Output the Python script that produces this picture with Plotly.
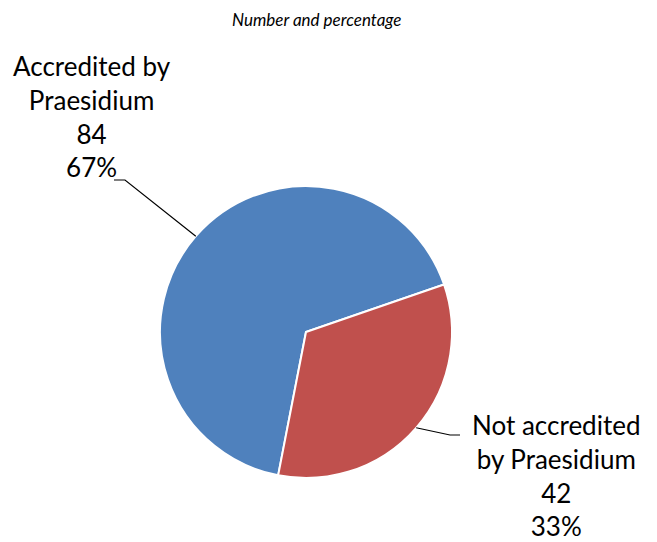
import math
import plotly.graph_objects as go

labels = ["Accredited by<br>Praesidium", "Not accredited<br>by Praesidium"]
values = [84, 42]
colors = ["#4F81BD", "#C0504D"]

# the page body has an 8px margin, so the figure is a bit smaller than the window
OFF = 8
W, H = 657 - OFF, 542 - OFF
cx, cy, r = 306 - OFF, 332 - OFF, 146  # pie centre / radius in figure pixels
rotation = 191  # first slice starts here, clockwise from 12 o'clock

fig = go.Figure(
    go.Pie(
        labels=labels,
        values=values,
        sort=False,
        direction="clockwise",
        rotation=rotation,
        textinfo="none",
        hoverinfo="label+value+percent",
        marker=dict(colors=colors, line=dict(color="white", width=2)),
        domain=dict(x=[(cx - r) / W, (cx + r) / W], y=[(H - cy - r) / H, (H - cy + r) / H]),
        showlegend=False,
    )
)


def px(x, y):
    # screen pixel -> paper coords
    return (x - OFF) / W, 1 - (y - OFF) / H


total = sum(values)
# label block top-centre and leader elbow (screen pixels) for each slice
label_pos = [(92, 48), (556, 407)]
elbows = [((125, 180), (114, 180)), ((450, 435), (460, 435))]

start = rotation
for i, v in enumerate(values):
    sweep = 360 * v / total
    mid = math.radians(start + sweep / 2)
    start += sweep
    ex, ey = cx + OFF + r * math.sin(mid), cy + OFF - r * math.cos(mid)
    (bx, by), (tx, ty) = elbows[i]
    path = "M {} {} L {} {} L {} {}".format(*px(ex, ey), *px(bx, by), *px(tx, ty))
    fig.add_shape(type="path", path=path, xref="paper", yref="paper",
                  line=dict(color="black", width=1.2))
    pct = round(100 * v / total)
    lx, ly = px(*label_pos[i])
    fig.add_annotation(
        x=lx, y=ly, xref="paper", yref="paper",
        text=f"{labels[i]}<br>{v}<br>{pct}%",
        showarrow=False, xanchor="center", yanchor="top", align="center",
        font=dict(size=26, color="black"),
    )

tx, ty = px(317, 7)
fig.add_annotation(
    x=tx, y=ty, xref="paper", yref="paper",
    text="<i>Number and percentage</i>", showarrow=False,
    xanchor="center", yanchor="top", font=dict(size=17, color="black"),
)

fig.update_layout(
    width=W, height=H,
    margin=dict(l=0, r=0, t=0, b=0),
    paper_bgcolor="white", plot_bgcolor="white",
    font=dict(family="Lato, Open Sans, sans-serif"),
)

fig.write_html("out.html")
